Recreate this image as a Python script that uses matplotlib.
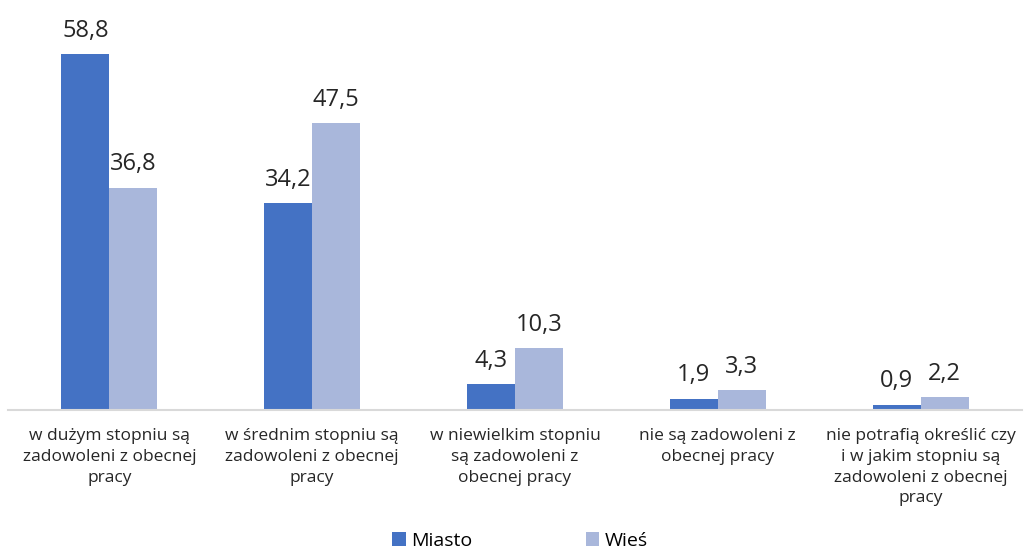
import matplotlib.pyplot as plt
import numpy as np

plt.rcParams['font.family'] = ['Open Sans', 'DejaVu Sans']

categories = [
    'w dużym stopniu są\nzadowoleni z obecnej\npracy',
    'w średnim stopniu są\nzadowoleni z obecnej\npracy',
    'w niewielkim stopniu\nsą zadowoleni z\nobecnej pracy',
    'nie są zadowoleni z\nobecnej pracy',
    'nie potrafią określić czy\ni w jakim stopniu są\nzadowoleni z obecnej\npracy',
]
miasto = [58.8, 34.2, 4.3, 1.9, 0.9]
wies = [36.8, 47.5, 10.3, 3.3, 2.2]
series_names = ['Miasto', 'Wieś']
colors = ['#4472C4', '#A9B7DB']

fig = plt.figure(figsize=(10.24, 5.51), dpi=100)
ax = fig.add_axes([8 / 1024, 141 / 551, 1014 / 1024, 393 / 551])

x = np.arange(len(categories))
w = 0.237
b1 = ax.bar(x - w / 2, miasto, w, color=colors[0], label=series_names[0])
b2 = ax.bar(x + w / 2, wies, w, color=colors[1], label=series_names[1])

# etykiety wartości nad słupkami
for bars, vals in ((b1, miasto), (b2, wies)):
    for rect, v in zip(bars, vals):
        ax.annotate(f'{v:.1f}'.replace('.', ','),
                    (rect.get_x() + rect.get_width() / 2, v),
                    xytext=(0, 8), textcoords='offset points',
                    ha='center', va='bottom', fontsize=17, color='#262626',
                    annotation_clip=False)

ax.set_xlim(-0.5, 4.5)
ax.set_ylim(0, 65)
ax.set_yticks([])
ax.set_xticks(x)
ax.set_xticklabels(categories, fontsize=12.5, color='#262626', linespacing=1.4)
ax.tick_params(axis='x', length=0, pad=13)
for s in ['top', 'right', 'left']:
    ax.spines[s].set_visible(False)
ax.spines['bottom'].set_color('#D9D9D9')
ax.spines['bottom'].set_linewidth(1.5)

fig.legend(handles=[b1, b2], labels=series_names, loc='center',
           bbox_to_anchor=(0.508, 1 - 541 / 551), ncol=2, frameon=False,
           fontsize=14, handlelength=0.7, handleheight=0.7, handletextpad=0.3,
           columnspacing=5.8)

fig.savefig('out.png', dpi=100)
